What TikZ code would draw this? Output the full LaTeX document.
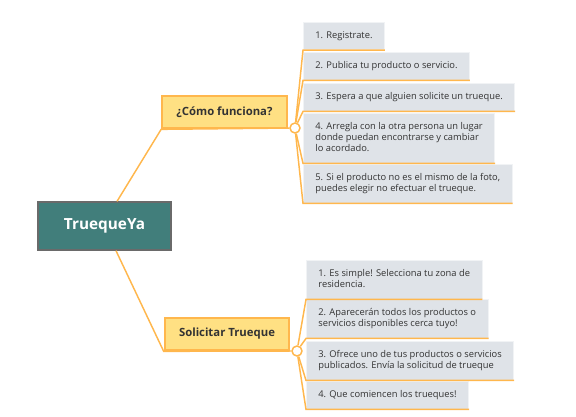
\documentclass[tikz,border=0pt]{standalone}
\usepackage{fontspec}
\setmainfont{Open Sans}
\definecolor{rootfill}{HTML}{417E7B}
\definecolor{rootrim}{HTML}{6A6A6A}
\definecolor{topicfill}{HTML}{FFE083}
\definecolor{branchline}{HTML}{FFB74D}
\definecolor{leaffill}{HTML}{DFE3E8}
\definecolor{leafrim}{HTML}{F1F3F5}
\definecolor{inktext}{HTML}{333333}
\begin{document}
\begin{tikzpicture}[x=0.75pt,y=-0.75pt,
    branch/.style={draw=branchline,line width=1.1pt},
    rootbox/.style={rectangle,fill=rootfill,draw=rootrim,line width=1pt,
        minimum width=99.75pt,minimum height=36pt,text=white,
        font=\bfseries\fontsize{11.5}{13}\selectfont},
    topic/.style={rectangle,fill=topicfill,draw=branchline,line width=1.5pt,
        minimum width=93.5pt,minimum height=24.5pt,text=inktext,
        font=\bfseries\fontsize{8.5}{10}\selectfont},
    hub/.style={circle,fill=white,draw=branchline,line width=1.1pt,
        minimum size=7.5pt,inner sep=0pt},
    leaf/.style={rectangle,anchor=north west,fill=leaffill,draw=leafrim,
        line width=0.6pt,align=left,inner xsep=9pt,inner ysep=6.8pt,
        text depth=1.8pt,text=inktext,font=\fontsize{7}{8.25}\selectfont}]
\useasboundingbox (0,0) rectangle (576,417);

\node [rootbox] (truequeya) at (104.5,226) {TruequeYa};
\node [topic] (como) at (224.5,112) {¿Cómo funciona?};
\node [topic] (solicitar) at (227,334) {Solicitar Trueque};
\node [hub] (hubcomo) at (295,128) {};
\node [hub] (hubsol) at (297,351) {};

% pasos de como funciona
\node [leaf] (paso1) at (303,22) {1. Registrate.};
\node [leaf] (paso2) at (303,52) {2. Publica tu producto o servicio.};
\node [leaf] (paso3) at (303,83) {3. Espera a que alguien solicite un trueque.};
\node [leaf] (paso4) at (303,113) {4. Arregla con la otra persona un lugar\\donde puedan encontrarse y cambiar\\lo acordado.};
\node [leaf] (paso5) at (303,164) {5. Si el producto no es el mismo de la foto,\\puedes elegir no efectuar el trueque.};

% pasos de solicitar trueque
\node [leaf] (sol1) at (306,260) {1. Es simple! Selecciona tu zona de\\residencia.};
\node [leaf] (sol2) at (306,299) {2. Aparecerán todos los productos o\\servicios disponibles cerca tuyo!};
\node [leaf] (sol3) at (306,341) {3. Ofrece uno de tus productos o servicios\\publicados. Envía la solicitud de trueque};
\node [leaf] (sol4) at (306,381) {4. Que comiencen los trueques!};

\draw [branch] ([xshift=9.4pt]truequeya.north) -- (como.south west) -- (hubcomo);
\draw [branch] ([xshift=8.6pt]truequeya.south) -- (solicitar.south west) -- (hubsol);

\draw [branch] (hubcomo) -- (paso1.south west) -- (paso1.south east);
\draw [branch] (hubcomo) -- (paso2.south west) -- (paso2.south east);
\draw [branch] (hubcomo) -- (paso3.south west) -- (paso3.south east);
\draw [branch] (hubcomo) -- (paso4.south west) -- (paso4.south east);
\draw [branch] (hubcomo) -- (paso5.south west) -- (paso5.south east);

\draw [branch] (hubsol) -- (sol1.south west) -- (sol1.south east);
\draw [branch] (hubsol) -- (sol2.south west) -- (sol2.south east);
\draw [branch] (hubsol) -- (sol3.south west) -- (sol3.south east);
\draw [branch] (hubsol) -- (sol4.south west) -- (sol4.south east);
\end{tikzpicture}
\end{document}
